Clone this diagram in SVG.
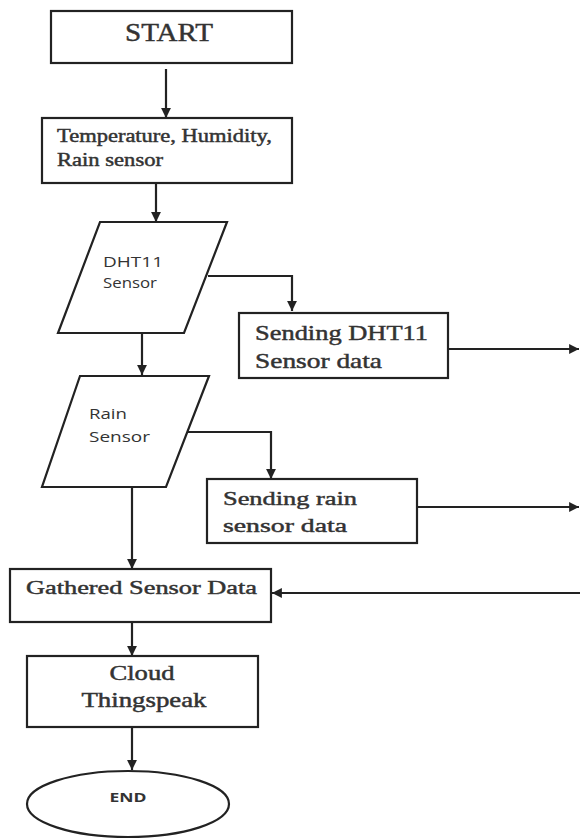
<svg xmlns="http://www.w3.org/2000/svg" width="580" height="839" viewBox="0 0 580 839">
<style>
.box{fill:#fff;stroke:#222;stroke-width:2.2}
.ln{fill:none;stroke:#222;stroke-width:2.2}
.sr{font-family:"Liberation Serif","Times New Roman",serif;fill:#333;stroke:#333;stroke-width:0.45}
.ss{font-family:"Open Sans","Liberation Sans",sans-serif;fill:#333}
</style>
<defs>
<marker id="ah" viewBox="0 0 10 10" refX="10" refY="5" markerWidth="4.5" markerHeight="4.5" orient="auto" markerUnits="strokeWidth">
<path d="M0,0 L10,5 L0,10 z" fill="#222"/>
</marker>
</defs>
<rect width="580" height="839" fill="#fff"/>
<g id="connectors">
<line class="ln" x1="166" y1="69" x2="166" y2="118" marker-end="url(#ah)"/>
<line class="ln" x1="156" y1="183" x2="156" y2="222" marker-end="url(#ah)"/>
<polyline class="ln" points="208,276 292,276 292,311" marker-end="url(#ah)"/>
<line class="ln" x1="448" y1="349" x2="579" y2="349" marker-end="url(#ah)"/>
<line class="ln" x1="142" y1="333" x2="142" y2="375" marker-end="url(#ah)"/>
<polyline class="ln" points="188,432 271,432 271,479" marker-end="url(#ah)"/>
<line class="ln" x1="417" y1="507" x2="579" y2="507" marker-end="url(#ah)"/>
<line class="ln" x1="132" y1="487" x2="132" y2="569" marker-end="url(#ah)"/>
<line class="ln" x1="580" y1="593" x2="272" y2="593" marker-end="url(#ah)"/>
<line class="ln" x1="132" y1="622" x2="132" y2="656" marker-end="url(#ah)"/>
<line class="ln" x1="132" y1="727" x2="132" y2="770" marker-end="url(#ah)"/>
</g>
<g id="start">
<rect class="box" x="51" y="11" width="241" height="52"/>
<text class="sr" x="169" y="41" font-size="26" text-anchor="middle" textLength="88" lengthAdjust="spacingAndGlyphs">START</text>
</g>
<g id="sensors">
<rect class="box" x="42" y="118" width="250" height="65"/>
<text class="sr" x="57" y="142" font-size="18" textLength="215" lengthAdjust="spacingAndGlyphs">Temperature, Humidity,</text>
<text class="sr" x="57" y="166" font-size="18" textLength="106" lengthAdjust="spacingAndGlyphs">Rain sensor</text>
</g>
<g id="dht11">
<polygon class="box" points="100,222 227,222 184,333 58,333"/>
<text class="ss" x="103" y="267" font-size="15" textLength="60" lengthAdjust="spacingAndGlyphs">DHT11</text>
<text class="ss" x="103" y="288" font-size="15" textLength="54" lengthAdjust="spacingAndGlyphs">Sensor</text>
</g>
<g id="send-dht11">
<rect class="box" x="239" y="313" width="209" height="65"/>
<text class="sr" x="255" y="340" font-size="21" textLength="173" lengthAdjust="spacingAndGlyphs">Sending DHT11</text>
<text class="sr" x="255" y="368" font-size="21" textLength="127" lengthAdjust="spacingAndGlyphs">Sensor data</text>
</g>
<g id="rain">
<polygon class="box" points="80,376 209,376 166,487 42,487"/>
<text class="ss" x="89" y="419" font-size="15" textLength="38" lengthAdjust="spacingAndGlyphs">Rain</text>
<text class="ss" x="89" y="442" font-size="15" textLength="61" lengthAdjust="spacingAndGlyphs">Sensor</text>
</g>
<g id="send-rain">
<rect class="box" x="207" y="479" width="210" height="64"/>
<text class="sr" x="223" y="505" font-size="19" textLength="134" lengthAdjust="spacingAndGlyphs">Sending rain</text>
<text class="sr" x="223" y="532" font-size="19" textLength="124" lengthAdjust="spacingAndGlyphs">sensor data</text>
</g>
<g id="gathered">
<rect class="box" x="10" y="569" width="261" height="53"/>
<text class="sr" x="26" y="594" font-size="19" textLength="231" lengthAdjust="spacingAndGlyphs">Gathered Sensor Data</text>
</g>
<g id="cloud">
<rect class="box" x="27" y="656" width="231" height="71"/>
<text class="sr" x="142" y="680" font-size="20" text-anchor="middle" textLength="65" lengthAdjust="spacingAndGlyphs">Cloud</text>
<text class="sr" x="144" y="707" font-size="20" text-anchor="middle" textLength="125" lengthAdjust="spacingAndGlyphs">Thingspeak</text>
</g>
<g id="end">
<ellipse class="box" cx="128" cy="804" rx="101" ry="33"/>
<text class="ss" x="128" y="802" font-size="13" font-weight="bold" text-anchor="middle" textLength="37" lengthAdjust="spacingAndGlyphs">END</text>
</g>
</svg>
